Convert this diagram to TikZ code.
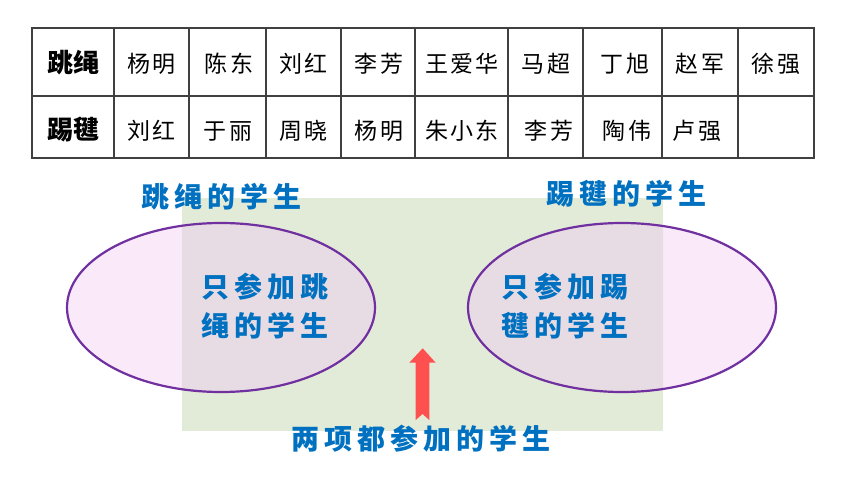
\documentclass[tikz,border=0pt]{standalone}
\usepackage{fontspec}
\usetikzlibrary{shapes.geometric}
\newfontfamily\cjk{Noto Sans CJK SC}
\newfontfamily\cjkls[LetterSpace=10]{Noto Sans CJK SC}
\newfontfamily\cjkblue[LetterSpace=18]{Noto Sans CJK SC}
\definecolor{textblue}{HTML}{0070C0}
\definecolor{rimpurple}{HTML}{7030A0}
\definecolor{greenbg}{HTML}{E2EBD7}
\definecolor{pinkfill}{HTML}{FAEAF9}
\definecolor{overlapfill}{HTML}{E8DCE4}
\definecolor{arrowred}{HTML}{FF5050}
\definecolor{gridgray}{HTML}{404040}
\tikzset{
  tname/.style={font=\cjkls\fontsize{23}{23}\selectfont, inner sep=0pt},
  thead/.style={font=\cjk\bfseries\fontsize{26}{26}\selectfont, inner sep=0pt},
  blab/.style={font=\cjkblue\bfseries\fontsize{28}{28}\selectfont, text=textblue, anchor=west, inner sep=0pt},
  setshape/.style={ellipse, minimum width=308pt, minimum height=169pt, inner sep=0pt},
  gridline/.style={draw=gridgray, line width=1.3pt},
}
\begin{document}
\begin{tikzpicture}[x=1pt,y=-1pt]
\useasboundingbox (0,0) rectangle (860,484);
\fill[white] (0,0) rectangle (860,484);
% table grid
\draw[gridline] (32,28) rectangle (814,158);
\draw[gridline] (32,96) -- (814,96);
\foreach \xx in {114,189,266,341,415,508,583,662,738}
  \draw[gridline] (\xx,28) -- (\xx,158);
% table text
\node[thead] (h1) at (73,63) {跳绳};
\node[thead] (h2) at (73,129) {踢毽};
\foreach \nm/\cx in {杨明/151.5, 陈东/229, 刘红/303.5, 李芳/379, 王爱华/462, 马超/546, 丁旭/625, 赵军/700, 徐强/776}
  \node[tname] at (\cx,64) {\nm};
\foreach \nm/\cx in {刘红/151.5, 于丽/228, 周晓/303.5, 杨明/379, 朱小东/462, 李芳/549, 陶伟/627, 卢强/697}
  \node[tname] at (\cx,131) {\nm};
% green region
\fill[greenbg] (182,198) rectangle (663,431);
% ellipses
\node[setshape, fill=pinkfill] (eL) at (221,307.5) {};
\node[setshape, fill=pinkfill] (eR) at (622,307.5) {};
\begin{scope}
  \clip (182,198) rectangle (663,431);
  \fill[overlapfill] (221,307.5) ellipse [x radius=154pt, y radius=84.5pt];
  \fill[overlapfill] (622,307.5) ellipse [x radius=154pt, y radius=84.5pt];
\end{scope}
\draw[rimpurple, line width=2.2pt] (221,307.5) ellipse [x radius=154pt, y radius=84.5pt];
\draw[rimpurple, line width=2.2pt] (622,307.5) ellipse [x radius=154pt, y radius=84.5pt];
% arrow
\fill[arrowred] (422.7,348.3) -- (435.7,362.7) -- (429.3,362.7) -- (429.3,420)
  -- (422.5,414) -- (415.7,420) -- (415.7,362.7) -- (409.3,362.7) -- cycle;
% blue labels
\node[blab] (tL) at (141,197) {跳绳的学生};
\node[blab] (tR) at (546,194) {踢毽的学生};
\node[blab] (iL1) at (201,287) {只参加跳};
\node[blab] (iL2) at (201,326) {绳的学生};
\node[blab] (iR1) at (501,287) {只参加踢};
\node[blab] (iR2) at (501,326) {毽的学生};
\node[blab] (both) at (291,439) {两项都参加的学生};
\end{tikzpicture}
\end{document}
